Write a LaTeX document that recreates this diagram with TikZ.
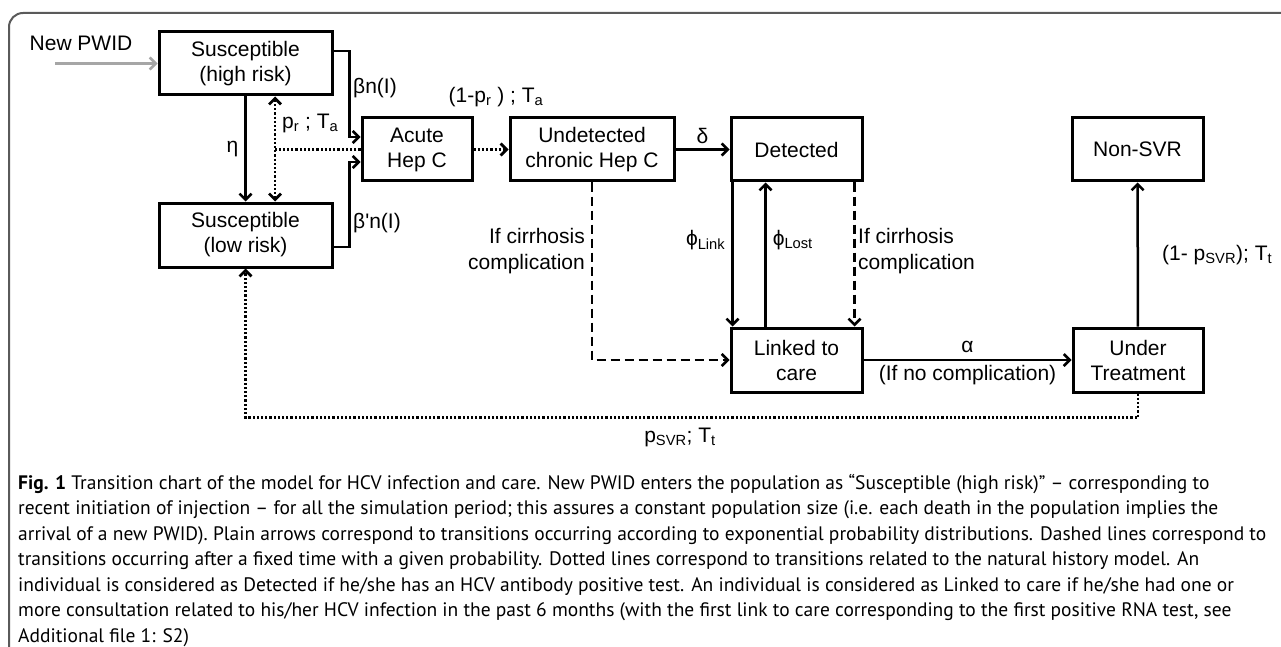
\documentclass[tikz,border=0pt]{standalone}
\usepackage{fontspec}
\setmainfont{Liberation Sans}
\newfontfamily\capfont{PT Sans}
\usetikzlibrary{arrows.meta,positioning,calc}
\definecolor{frm}{HTML}{5A5A5A}
\definecolor{newin}{HTML}{A6A6A6}
\tikzset{
  barb/.tip={Straight Barb[length=6pt,width=12pt]},
  box/.style={draw,line width=3pt,minimum height=63pt,align=center,inner sep=0pt,font=\fontsize{21}{25}\selectfont},
  ar/.style={-barb,line width=2.5pt},
  ar2/.style={barb-barb,line width=2.5pt},
  dotl/.style={dash pattern=on 2.2pt off 2pt,line width=2.8pt},
  dashl/.style={dash pattern=on 9pt off 5pt},
  lbl/.style={inner sep=0pt,font=\fontsize{21}{26}\selectfont},
}

\begin{document}
\begin{tikzpicture}[x=1pt,y=-1pt]
  \useasboundingbox (0,0) rectangle (1281,647);
  \draw[frm,line width=2pt,rounded corners=14pt] (1300,13) -- (9,13) -- (9,670);

  % compartments
  \node[box,minimum width=173pt] (hi) at (245.5,63.5) {Susceptible\\(high risk)};
  \node[box,minimum width=173pt,minimum height=64pt] (lo) at (245.5,235) {Susceptible\\(low risk)};
  \node[box,minimum width=110pt] (acute) at (417,149.5) {Acute\\Hep C};
  \node[box,minimum width=164pt] (undet) at (592,149.5) {Undetected\\chronic Hep C};
  \node[box,minimum width=131pt] (det) at (796.5,149.5) {Detected};
  \node[box,minimum width=131pt] (nonsvr) at (1137.5,149.5) {Non-SVR};
  \node[box,minimum width=131pt,minimum height=64pt] (linked) at (796.5,360) {Linked to\\care};
  \node[box,minimum width=130pt,minimum height=64pt] (under) at (1138,360) {Under\\Treatment};

  % entry of new injectors
  \node[lbl] (pwid) at (81,43) {New PWID};
  \coordinate (pwin) at (55,63.5);
  \draw[ar,draw=newin] (pwin) -- (hi.west);

  % susceptibles
  \draw[ar] (hi) -- node[lbl,left=6pt]{η} (lo);
  \coordinate (clr) at (275,149.5);
  \draw[dotl] (acute.west) -- (clr);
  \draw[ar2,dotl] (clr |- hi.south) -- (clr |- lo.north);
  \node[lbl,anchor=west] (pra) at (282,123) {p\textsubscript{r} ; T\textsubscript{a}};

  % infection
  \draw[ar] ([yshift=12.5pt]hi.east) -- ++(16,0) |- ([yshift=12.5pt]acute.west);
  \node[lbl,anchor=west] (bhi) at (353,88) {βn(I)};
  \draw[ar] ([yshift=-12pt]lo.east) -- ++(16,0) |- ([yshift=-12.5pt]acute.west);
  \node[lbl,anchor=west] (blo) at (353,223) {β\textquotesingle n(I)};

  \draw[ar,dotl] (acute) -- (undet);
  \node[lbl] (pca) at (496,97) {(1-p\textsubscript{r} ) ; T\textsubscript{a}};
  \draw[ar] (undet) -- node[lbl,above=5pt]{δ} (det);

  % care cascade
  \draw[ar] ([xshift=3pt]det.south west) -- node[lbl,left=6pt,pos=0.4]{ϕ\textsubscript{Link}} ([xshift=3pt]linked.north west);
  \draw[ar] ([xshift=36pt]linked.north west) -- node[lbl,right=6pt,pos=0.6]{ϕ\textsubscript{Lost}} ([xshift=36pt]det.south west);
  \draw[ar,dashl] ([xshift=-9pt]det.south east) -- ([xshift=-9pt]linked.north east);
  \node[lbl,anchor=west,align=left] (cir2) at (858,251) {If cirrhosis\\complication};
  \draw[ar,dashl] (undet.south) |- (linked.west);
  \node[lbl,anchor=east,align=right] (cir1) at (585,251) {If cirrhosis\\complication};

  \draw[ar] (linked) -- node[lbl,above=6pt]{α} node[lbl,below=4pt]{(If no complication)} (under);
  \draw[ar] (under) -- (nonsvr);
  \node[lbl,anchor=west] (psvr1) at (1162,255) {(1- p\textsubscript{SVR}); T\textsubscript{t}};

  % back to low risk after SVR
  \draw[ar,dotl] (under.south) -- ++(0,24) -| (lo.south);
  \node[lbl] (psvr2) at (680,437) {p\textsubscript{SVR}; T\textsubscript{t}};

  \node[anchor=north west,align=left,inner sep=0pt,font=\capfont\fontsize{19.5}{25.5}\selectfont] (cap) at (18,474)
    {\textbf{Fig. 1} Transition chart of the model for HCV infection and care. New PWID enters the population as “Susceptible (high risk)” – corresponding to\\
     recent initiation of injection – for all the simulation period; this assures a constant population size (i.e. each death in the population implies the\\
     arrival of a new PWID). Plain arrows correspond to transitions occurring according to exponential probability distributions. Dashed lines correspond to\\
     transitions occurring after a fixed time with a given probability. Dotted lines correspond to transitions related to the natural history model. An\\
     individual is considered as Detected if he/she has an HCV antibody positive test. An individual is considered as Linked to care if he/she had one or\\
     more consultation related to his/her HCV infection in the past 6 months (with the first link to care corresponding to the first positive RNA test, see\\
     Additional file 1: S2)};
\end{tikzpicture}
\end{document}
